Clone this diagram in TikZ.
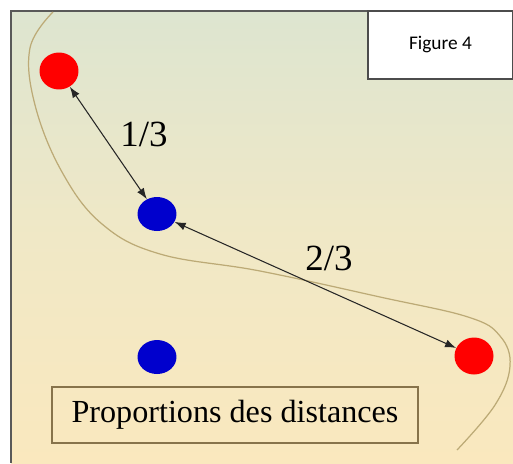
\documentclass[tikz,border=0pt]{standalone}
\usepackage{fontspec}
\setmainfont{Liberation Serif}
\newfontfamily\figfont{Carlito}
\usepackage{xcolor}
\usetikzlibrary{arrows.meta, positioning, shapes.geometric}

\definecolor{bgtop}{RGB}{221,229,208}
\definecolor{bgmid}{RGB}{240,232,198}
\definecolor{bgbot}{RGB}{250,232,190}
\definecolor{curvecol}{RGB}{188,170,118}
\definecolor{boxbrown}{RGB}{135,115,75}
\definecolor{dotred}{RGB}{255,0,0}
\definecolor{dotblue}{RGB}{0,0,205}

\begin{document}
\begin{tikzpicture}[
    x=0.02cm, y=-0.02cm,
    reddot/.style={ellipse, inner sep=0pt, minimum width=0.78cm, minimum height=0.74cm, fill=dotred},
    bluedot/.style={ellipse, inner sep=0pt, minimum width=0.78cm, minimum height=0.68cm, fill=dotblue},
    arr/.style={{Latex[length=2.2mm, width=1.6mm]}-{Latex[length=2.2mm, width=1.6mm]}, line width=0.6pt, draw=black!85},
    frac/.style={font=\fontsize{21}{24}\selectfont, inner sep=0pt}
]
\useasboundingbox (0,0) rectangle (513,463);

% background
\shade[top color=bgtop, bottom color=bgbot, middle color=bgmid] (11,11) rectangle (513,463);
\draw[gray!70!black, line width=0.8pt] (11,463) -- (11,11) -- (513,11);

% the curve
\draw[curvecol, line width=0.7pt] plot[smooth, tension=0.65] coordinates {
    (53,12) (30,48) (35,105) (62,172) (102,224) (160,254) (260,271) (380,297)
    (468,317) (500,336) (510,366) (495,405) (457,450)};

% points
\node[reddot] (r1) at (59,71) {};
\node[bluedot] (b1) at (157,214) {};
\node[bluedot] (b2) at (157,357) {};
\node[reddot] (r2) at (474,356) {};

\draw[arr] (r1) -- (b1);
\draw[arr] (b1) -- (r2);

\node[frac] (f1) at (144,134) {1/3};
\node[frac] (f2) at (329,258) {2/3};

% caption boxes
\node[draw=boxbrown, line width=1.3pt, minimum width=366*0.02cm, minimum height=56*0.02cm,
      font=\fontsize{18.3}{21}\selectfont, inner sep=0pt] (prop) at (235,415) {Proportions des distances};

\node[draw=black!70, fill=white, line width=0.8pt, minimum width=145*0.02cm, minimum height=68*0.02cm,
      font=\figfont\fontsize{11}{13}\selectfont] (fig) at (440.5,45) {Figure 4};

\end{tikzpicture}
\end{document}
